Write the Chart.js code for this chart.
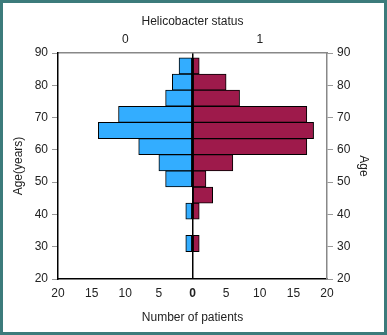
<!DOCTYPE html>
<html>
<head>
<meta charset="utf-8">
<script src="https://cdn.jsdelivr.net/npm/chart.js@4.4.1/dist/chart.umd.min.js"></script>
<style>
  body { margin: 0; background: #fff; }
  #frame {
    width: 387px; height: 335px; box-sizing: border-box;
    border: 3px solid #3c7b7b; background: #fff;
  }
  canvas { display: block; }
</style>
</head>
<body>
<div id="frame"><canvas id="pyramid" width="381" height="329"></canvas></div>
<script>
// age bin centres (5-year bins) and patient counts per helicobacter status
const ageBins = [86, 81, 76, 71, 66, 61, 56, 51, 46, 41, 36, 31];
const negCounts = [2, 3, 4, 11, 14, 8, 5, 4, 0, 1, 0, 1]; // status 0
const posCounts = [1, 5, 7, 17, 18, 17, 6, 2, 3, 1, 0, 1]; // status 1
const countTicks = [-20, -15, -10, -5, 0, 5, 10, 15, 20];
const statusLabels = ['0', '1'];

const font = {family: 'Liberation Sans, Arial, sans-serif', size: 12};
const textColor = '#222';

const negData = ageBins.map((a, i) => negCounts[i] ? {x: -negCounts[i], y: a} : null).filter(Boolean);
const posData = ageBins.map((a, i) => posCounts[i] ? {x: posCounts[i], y: a} : null).filter(Boolean);

new Chart(document.getElementById('pyramid'), {
  type: 'bar',
  data: {
    datasets: [{
      label: statusLabels[0],
      data: negData,
      backgroundColor: '#33adff',
      borderColor: '#000',
      borderWidth: 1,
      borderSkipped: false,
      xAxisID: 'x', yAxisID: 'y'
    }, {
      label: statusLabels[1],
      data: posData,
      backgroundColor: '#9e1a4b',
      borderColor: '#000',
      borderWidth: 1,
      borderSkipped: false,
      xAxisID: 'x', yAxisID: 'y'
    }]
  },
  options: {
    indexAxis: 'y',
    responsive: false,
    animation: false,
    layout: {padding: 0},
    datasets: {bar: {barPercentage: 1, categoryPercentage: 1}},
    plugins: {legend: {display: false}, tooltip: {enabled: false}},
    scales: {
      x: {
        type: 'linear', position: 'bottom', min: -20, max: 20,
        afterBuildTicks: s => { s.ticks = countTicks.map(v => ({value: v})); },
        afterFit: s => { s.height = 53; },
        ticks: {
          color: textColor, padding: 7, maxRotation: 0,
          font: c => (c.tick && c.tick.value === 0) ? {...font, weight: 'bold'} : font,
          callback: v => Math.abs(v)
        },
        grid: {
          drawTicks: false,
          color: c => (c.tick && c.tick.value === 0) ? '#000' : 'rgba(0,0,0,0)',
          lineWidth: 1.5
        },
        border: {color: '#000', width: 1.5},
        title: {display: true, text: 'Number of patients', color: textColor, font: font, padding: {top: 0, bottom: 7}}
      },
      x2: {
        type: 'linear', position: 'top', min: -20, max: 20,
        afterBuildTicks: s => { s.ticks = [{value: -10}, {value: 10}]; },
        afterFit: s => { s.height = 50; },
        ticks: {
          color: textColor, padding: 6, font: font, maxRotation: 0,
          callback: v => v < 0 ? statusLabels[0] : statusLabels[1]
        },
        grid: {drawOnChartArea: false, drawTicks: false},
        border: {color: '#888', width: 1.5},
        title: {display: true, text: 'Helicobacter status', color: textColor, font: font, padding: {top: 11, bottom: 0}}
      },
      y: {
        type: 'linear', position: 'left', min: 20, max: 90, stacked: true, offset: false,
        afterFit: s => { s.width = 55; },
        ticks: {stepSize: 10, color: textColor, font: font, padding: 4},
        grid: {drawOnChartArea: false, offset: false, tickLength: 6, tickColor: '#999'},
        border: {color: '#000', width: 1.5},
        title: {display: true, text: 'Age(years)', color: textColor, font: font, padding: {top: 8, bottom: 0}}
      },
      y2: {
        type: 'linear', position: 'right', min: 20, max: 90, offset: false,
        afterFit: s => { s.width = 57; },
        ticks: {stepSize: 10, color: textColor, font: font, padding: 4},
        grid: {drawOnChartArea: false, offset: false, tickLength: 6, tickColor: '#999'},
        border: {color: '#888', width: 1.5},
        title: {display: true, text: 'Age', color: textColor, font: font, padding: {top: 13, bottom: 0}}
      }
    }
  }
});
</script>
</body>
</html>
